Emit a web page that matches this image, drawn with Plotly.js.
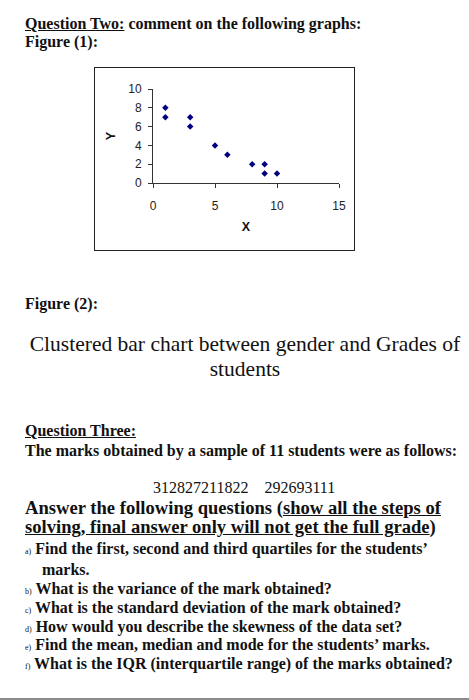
<!DOCTYPE html>
<html>
<head>
<meta charset="utf-8">
<script src="https://cdn.plot.ly/plotly-3.0.1.min.js"></script>
<style>
  html, body { margin: 0; padding: 0; background: #fff; }
  body { width: 469px; height: 700px; position: relative; overflow: hidden;
         font-family: "Liberation Serif", "Times New Roman", serif; color: #111; }
  .ln { position: absolute; white-space: pre; line-height: 1; }
  .b { font-weight: bold; }
  .s16 { font-size: 16px; }
  .lab { font-size: 8px; font-weight: normal; }
  #frame { position: absolute; left: 94px; top: 67px; width: 261px; height: 184px;
           box-sizing: border-box; border: 1.5px solid #222; pointer-events: none; }
  #scatter { position: absolute; left: 94px; top: 67px; width: 261px; height: 184px; }
  #rule { position: absolute; left: 0; top: 698px; width: 469px; height: 2px; background: #8a8a8a; }
</style>
</head>
<body>

<div class="ln b s16" style="left:25px; top:16px;"><u>Question Two:</u> comment on the following graphs:</div>
<div class="ln b s16" style="left:25px; top:34px;">Figure (1):</div>

<div id="scatter"></div>
<div id="frame"></div>

<div class="ln b s16" style="left:25px; top:296px;">Figure (2):</div>
<div class="ln" style="left:20px; width:450px; text-align:center; font-size:21.5px; top:334px;">Clustered bar chart between gender and Grades of</div>
<div class="ln" style="left:20px; width:450px; text-align:center; font-size:21.5px; top:359px;">students</div>

<div class="ln b s16" style="left:25px; top:423px;"><u>Question Three:</u></div>
<div class="ln b s16" style="left:25px; top:443px;">The marks obtained by a sample of 11 students were as follows:</div>
<div class="ln s16" style="left:153px; top:480px;">312827211822    292693111</div>
<div class="ln b" style="left:25px; top:499px; font-size:18.6px;">Answer the following questions (<u>show all the steps of</u></div>
<div class="ln b" style="left:25px; top:518px; font-size:18.6px;"><u>solving, final answer only will not get the full grade</u>)</div>
<div class="ln b s16" style="left:25px; top:541px;"><span class="lab">a)</span> Find the first, second and third quartiles for the students’</div>
<div class="ln b s16" style="left:42px; top:562px;">marks.</div>
<div class="ln b s16" style="left:25px; top:581px;"><span class="lab">b)</span> What is the variance of the mark obtained?</div>
<div class="ln b s16" style="left:25px; top:600px;"><span class="lab">c)</span> What is the standard deviation of the mark obtained?</div>
<div class="ln b s16" style="left:25px; top:619px;"><span class="lab">d)</span> How would you describe the skewness of the data set?</div>
<div class="ln b s16" style="left:25px; top:637px;"><span class="lab">e)</span> Find the mean, median and mode for the students’ marks.</div>
<div class="ln b s16" style="left:25px; top:656px;"><span class="lab">f)</span> What is the IQR (interquartile range) of the marks obtained?</div>

<div id="rule"></div>

<script>
// Figure (1) data
const xValues = [1, 1, 3, 3, 5, 6, 8, 9, 9, 10];
const yValues = [8, 7, 7, 6, 4, 3, 2, 2, 1, 1];
const xTicks = [0, 5, 10, 15];
const yTicks = [0, 2, 4, 6, 8, 10];

// Scatter trace with small navy diamonds
let points = {
  x: xValues,
  y: yValues,
  mode: 'markers',
  type: 'scatter',
  cliponaxis: false,
  marker: { symbol: 'diamond', size: 5, color: '#000080' },
  hoverinfo: 'skip'
};

let tickFont = { family: 'Liberation Sans, Arial, sans-serif', size: 12, color: '#222' };
let titleFont = { family: 'Liberation Sans, Arial, sans-serif', size: 12.5, color: '#111', weight: 'bold' };

let layout = {
  width: 261,
  height: 184,
  margin: { l: 59, r: 16, t: 22, b: 68 },
  paper_bgcolor: 'rgba(0,0,0,0)',
  plot_bgcolor: 'rgba(0,0,0,0)',
  showlegend: false,
  xaxis: {
    range: [0, 15],
    tickvals: xTicks,
    ticks: 'outside', ticklen: 4, tickwidth: 1, tickcolor: '#333',
    showline: true, linecolor: '#333', linewidth: 1,
    showgrid: false, zeroline: false,
    tickfont: tickFont,
    ticklabelstandoff: 8,
    title: { text: 'X', font: titleFont, standoff: 9 }
  },
  yaxis: {
    range: [0, 10],
    tickvals: yTicks,
    ticks: 'outside', ticklen: 4, tickwidth: 1, tickcolor: '#333',
    showline: true, linecolor: '#333', linewidth: 1,
    showgrid: false, zeroline: false,
    tickfont: tickFont,
    ticklabelstandoff: 4,
    title: { text: 'Y', font: titleFont, standoff: 9 }
  }
};

Plotly.newPlot('scatter', [points], layout, { staticPlot: true, displayModeBar: false });
</script>
</body>
</html>
